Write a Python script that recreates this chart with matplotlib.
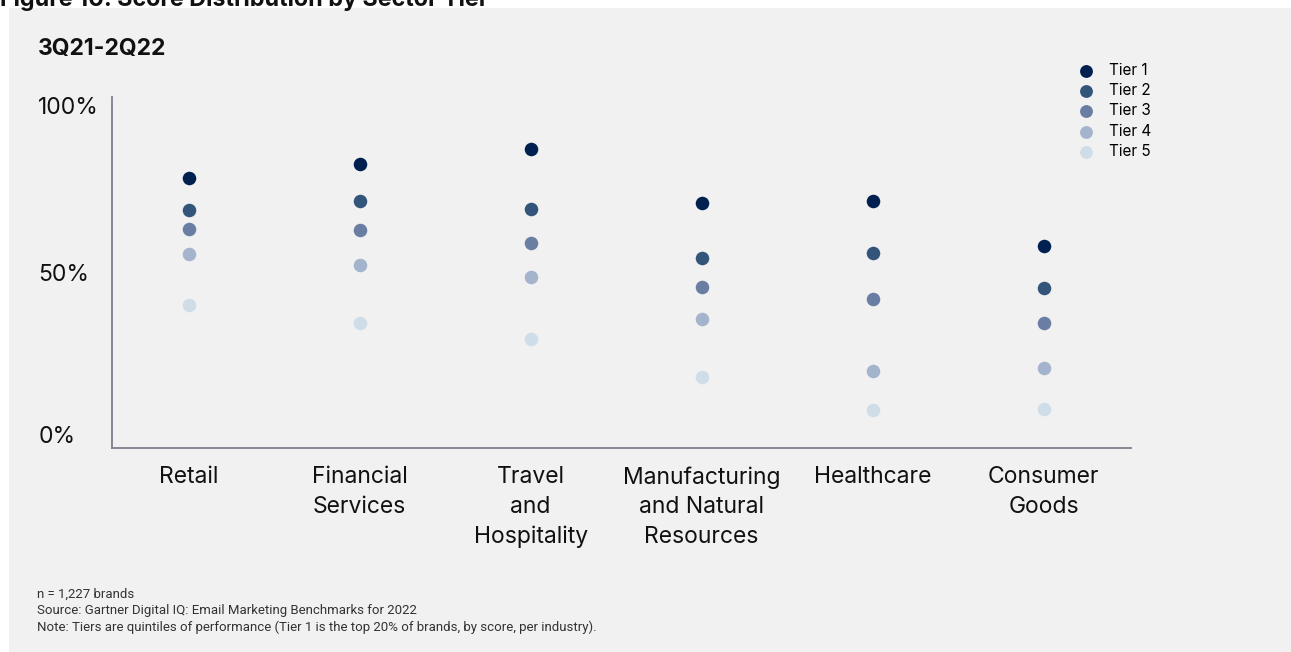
import numpy as np
import matplotlib
matplotlib.use("Agg")
import matplotlib.pyplot as plt
from matplotlib.patches import Rectangle

plt.rcParams['font.family'] = ['Inter', 'DejaVu Sans']

sectors = ["Retail", "Financial\nServices", "Travel\nand\nHospitality",
           "Manufacturing\nand Natural\nResources", "Healthcare", "Consumer\nGoods"]
tiers = ["Tier 1", "Tier 2", "Tier 3", "Tier 4", "Tier 5"]
# score (%) per tier, one value per sector
tier1 = [76.9, 80.9, 85.2, 69.9, 70.3, 57.5]
tier2 = [67.8, 70.4, 68.2, 54.1, 55.6, 45.5]
tier3 = [62.5, 62.0, 58.5, 45.8, 42.5, 35.7]
tier4 = [55.3, 52.2, 48.7, 36.7, 22.0, 22.9]
tier5 = [40.7, 35.6, 31.1, 20.2, 10.8, 11.2]
yticks = [0, 50, 100]
ytick_labels = ["0%", "50%", "100%"]

colors = ["#002050", "#33557a", "#6a7ea3", "#a3b4cc", "#cfdde9"]
bg = "#f1f1f1"

fig = plt.figure(figsize=(12.91, 6.52), dpi=100)
fig.patches.append(Rectangle((9 / 1291, 0), 1, 1 - 8 / 652, transform=fig.transFigure,
                             facecolor=bg, edgecolor="none", zorder=-10))

ax = fig.add_axes([112 / 1291, 1 - 448 / 652, 1019 / 1291, 351 / 652])
ax.set_facecolor(bg)

x = np.arange(len(sectors))
for vals, lab, c in zip([tier1, tier2, tier3, tier4, tier5], tiers, colors):
    ax.scatter(x, vals, s=95, color=c, label=lab, zorder=3, linewidths=0)

ax.set_xlim(-0.4485, 5.511)
ax.set_ylim(0, 100)
for s in ["top", "right"]:
    ax.spines[s].set_visible(False)
for s in ["left", "bottom"]:
    ax.spines[s].set_color("#80808a")
    ax.spines[s].set_linewidth(1.3)

ax.set_xticks(x)
ax.set_xticklabels(sectors, fontsize=16.5, linespacing=1.45, color="#111111")
ax.tick_params(axis="x", length=0, pad=13)
ax.set_yticks(yticks)
ax.set_yticklabels(ytick_labels, fontsize=16.5, color="#111111")
ax.tick_params(axis="y", length=0, pad=53)
for t in ax.get_yticklabels():
    t.set_horizontalalignment("left")
ylabs = ax.get_yticklabels()
ylabs[0].set_verticalalignment("bottom")
ylabs[-1].set_verticalalignment("top")

leg = fig.legend(loc="upper left", bbox_to_anchor=(1071 / 1291, 1 - 63 / 652),
                 frameon=False, fontsize=11, labelspacing=0.34, handletextpad=0.5,
                 borderaxespad=0, borderpad=0, markerscale=0.95)

fig.text(0, 1 - 6 / 652, "Figure 10: Score Distribution by Sector Tier",
         fontsize=16.8, fontweight="bold", va="baseline", ha="left", color="#111111")
fig.text(38 / 1291, 1 - 49 / 652, "3Q21-2Q22", fontsize=16.5, fontweight="bold",
         va="center", ha="left", color="#111111")

notes = ("n = 1,227 brands\n"
         "Source: Gartner Digital IQ: Email Marketing Benchmarks for 2022\n"
         "Note: Tiers are quintiles of performance (Tier 1 is the top 20% of brands, by score, per industry).")
fig.text(37 / 1291, 1 - 588 / 652, notes, fontsize=9.5, va="top", ha="left",
         linespacing=1.3, color="#333333", family=["Roboto", "DejaVu Sans"])

fig.savefig("out.png", dpi=100, facecolor="white")
